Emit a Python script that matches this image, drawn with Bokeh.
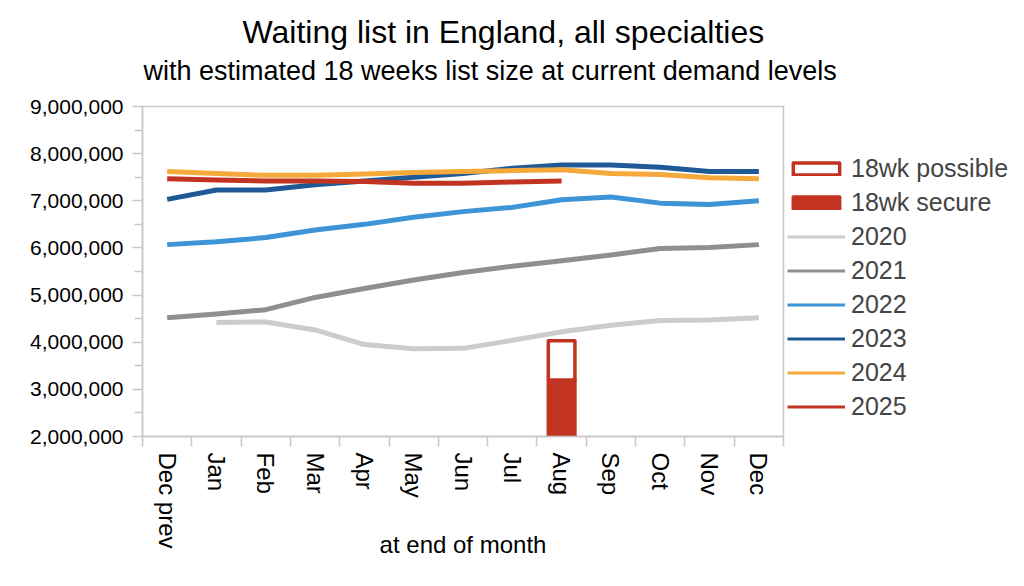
import math
from bokeh.plotting import figure
from bokeh.models import (Range1d, FixedTicker, NumeralTickFormatter, Legend,
                          LegendItem, Title)
from bokeh.embed import file_html
from bokeh.resources import INLINE

months = ["Dec prev", "Jan", "Feb", "Mar", "Apr", "May", "Jun", "Jul", "Aug",
          "Sep", "Oct", "Nov", "Dec"]
nan = float("nan")
y2020 = [nan, 4420000, 4430000, 4260000, 3950000, 3860000, 3870000, 4040000,
         4220000, 4360000, 4460000, 4470000, 4520000]
y2021 = [4520000, 4600000, 4690000, 4950000, 5140000, 5320000, 5480000, 5610000,
         5730000, 5850000, 5990000, 6010000, 6070000]
y2022 = [6070000, 6130000, 6220000, 6380000, 6500000, 6650000, 6770000, 6860000,
         7020000, 7080000, 6950000, 6920000, 7000000]
y2023 = [7030000, 7230000, 7230000, 7340000, 7420000, 7500000, 7580000, 7690000,
         7760000, 7760000, 7710000, 7620000, 7620000]
y2024 = [7620000, 7580000, 7540000, 7540000, 7570000, 7600000, 7620000, 7640000,
         7660000, 7580000, 7560000, 7490000, 7470000]
y2025 = [7465000, 7440000, 7420000, 7420000, 7410000, 7370000, 7370000, 7400000,
         7420000]
bar_month = ["Aug"]
secure = [3200000]
possible = [830000]

y_ticks = [2000000, 3000000, 4000000, 5000000, 6000000, 7000000, 8000000, 9000000]

FONT = "Liberation Sans"
GRAY = "#C8C8C8"
RED = "#C23421"

xs = list(range(len(months)))

p = figure(frame_width=641, frame_height=330, min_border_left=142,
           min_border_right=233, min_border_top=106, min_border_bottom=142,
           x_range=Range1d(-0.5, len(months) - 0.5),
           y_range=Range1d(y_ticks[0], y_ticks[-1]),
           output_backend="svg", toolbar_location=None)
p.xgrid.visible = False
p.ygrid.visible = False
p.outline_line_color = GRAY
p.outline_line_width = 1.5

# main title (outermost); a small spacer, then the subtitle, above the frame
p.title.text = "Waiting list in England, all specialties"
p.title.text_font = FONT
p.title.text_font_size = "32px"
p.title.text_font_style = "normal"
p.title.text_color = "black"
p.title.align = "left"
p.title.offset = 100
p.title.standoff = 0
p.add_layout(Title(text=" ", text_font_size="1px", standoff=14), "above")
p.add_layout(Title(text="with estimated 18 weeks list size at current demand levels",
                   text_font=FONT, text_font_size="27px",
                   text_font_style="normal", text_color="black",
                   align="left", offset=1, standoff=8), "above")

# x axis
xa = p.xaxis[0]
xa.ticker = FixedTicker(ticks=xs, minor_ticks=[i - 0.5 for i in range(len(months) + 1)])
xa.major_label_overrides = {i: m for i, m in enumerate(months)}
xa.major_label_orientation = -math.pi / 2
xa.major_tick_out = 0
xa.major_tick_in = 0
xa.minor_tick_out = 10
xa.minor_tick_in = 0
xa.minor_tick_line_color = GRAY
xa.minor_tick_line_width = 1.5
xa.axis_line_color = GRAY
xa.axis_line_width = 1.5
xa.major_label_standoff = 6
xa.major_label_text_font = FONT
xa.major_label_text_font_size = "24px"
xa.major_label_text_color = "black"
xa.axis_label = "at end of month"
xa.axis_label_text_font = FONT
xa.axis_label_text_font_size = "24px"
xa.axis_label_text_font_style = "normal"
xa.axis_label_text_color = "black"
xa.axis_label_standoff = -21

ya = p.yaxis[0]
ya.ticker = FixedTicker(ticks=y_ticks,
                        minor_ticks=[t + 500000 for t in y_ticks[:-1]])
ya.formatter = NumeralTickFormatter(format="0,0")
ya.major_tick_out = 10
ya.major_tick_in = 0
ya.minor_tick_out = 8
ya.minor_tick_in = 0
ya.major_tick_line_color = GRAY
ya.minor_tick_line_color = GRAY
ya.major_tick_line_width = 1.5
ya.minor_tick_line_width = 1.5
ya.axis_line_color = GRAY
ya.axis_line_width = 1.5
ya.major_label_standoff = 9
ya.major_label_text_font = FONT
ya.major_label_text_font_size = "21px"
ya.major_label_text_color = "black"

# bars (stacked)
bx = [months.index(m) for m in bar_month]
r_sec = p.vbar(x=bx, top=secure, bottom=0, width=0.54, fill_color=RED,
               line_color=RED, line_width=3.5, line_join="round")
r_pos = p.vbar(x=bx, bottom=secure, top=[s + q for s, q in zip(secure, possible)],
               width=0.54, fill_color="white", line_color=RED, line_width=3.5,
               line_join="round")

series = [("2020", y2020, "#CCCCCC"), ("2021", y2021, "#8F8F8F"),
          ("2022", y2022, "#3D94D6"), ("2023", y2023, "#205A96"),
          ("2024", y2024, "#F5A93B"), ("2025", y2025, RED)]

items = [LegendItem(label="18wk possible", renderers=[r_pos]),
         LegendItem(label="18wk secure", renderers=[r_sec])]
for name, vals, col in series:
    p.line(x=xs[:len(vals)], y=vals, line_color=col, line_width=5,
           line_join="round")
    dummy = p.line(x=[-5, -4], y=[0, 0], line_color=col, line_width=3)
    items.append(LegendItem(label=name, renderers=[dummy]))

legend = Legend(items=items, location=(4, 15), glyph_width=58, glyph_height=15,
                label_text_font=FONT, label_text_font_size="25px",
                label_height=24, spacing=5, padding=0, margin=0,
                label_standoff=6, border_line_color=None,
                background_fill_alpha=0)
p.add_layout(legend, "right")

open("out.html", "w").write(file_html(p, INLINE))
